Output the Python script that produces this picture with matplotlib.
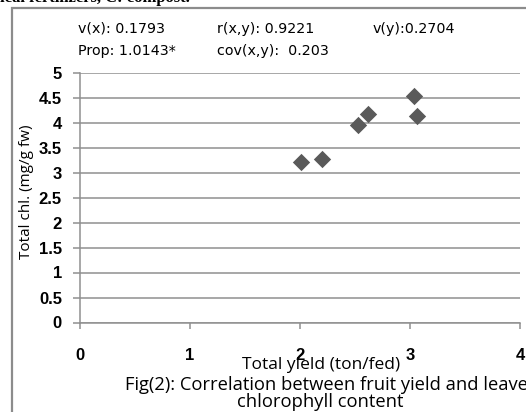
#!/usr/bin/python3
from matplotlib import pyplot as plt
from matplotlib.patches import Rectangle
import numpy as np

# Data
yield_x = [2.01, 2.20, 2.53, 2.62, 3.04, 3.06]
chl_y = [3.22, 3.27, 3.96, 4.17, 4.53, 4.14]
x_ticks = [0, 1, 2, 3, 4]
y_ticks = [0, 0.5, 1, 1.5, 2, 2.5, 3, 3.5, 4, 4.5, 5]
y_tick_labels = ['0', '0.5', '1', '1.5', '2', '2.5', '3', '3.5', '4', '4.5', '5']
stats = [('v(x): 0.1793', 'r(x,y): 0.9221', 'v(y):0.2704'),
         ('Prop: 1.0143*', 'cov(x,y):  0.203', '')]

W, H = 526, 412
figure = plt.figure(figsize=(W / 100, H / 100), dpi=100)
axes = figure.add_axes([80 / W, 1 - 322.5 / H, 440 / W, 250 / H])

# frame around the chart (cut off by the page)
figure.patches.append(Rectangle((12 / W, -0.1), 1.2, 1 - 8 / H + 0.1, transform=figure.transFigure,
                                fill=False, edgecolor='#8c8c8c', linewidth=1.6))

# heading from the page above, clipped
figure.text(0.5 / W, 1 + 2 / H, 'ical fertilizers, C: compost.', fontsize=12, fontweight='bold',
            family='Liberation Serif', ha='left', va='center')

axes.scatter(yield_x, chl_y, marker='D', s=78, color='#5a5a5a', zorder=3, linewidths=0)

axes.set_xlim(0, 4)
axes.set_ylim(0, 5)
axes.set_xticks(x_ticks)
axes.set_yticks(y_ticks)
axes.set_yticklabels(y_tick_labels)
axes.grid(axis='y', color='#8f8f8f', linewidth=1.1)
axes.set_axisbelow(True)
for s in ['top', 'right']:
    axes.spines[s].set_visible(False)
for s in ['left', 'bottom']:
    axes.spines[s].set_color('#8f8f8f')
    axes.spines[s].set_linewidth(1.1)
axes.tick_params(axis='x', direction='out', length=4.5, color='#8f8f8f', width=1.1, pad=14)
axes.tick_params(axis='y', direction='out', length=5, color='#8f8f8f', width=1.1, pad=8)
for lbl in axes.get_xticklabels() + axes.get_yticklabels():
    lbl.set_fontweight('bold')
    lbl.set_fontsize(12)
    lbl.set_family('Liberation Sans')

figure.text(27 / W, 1 - 192 / H, 'Total chl. (mg/g fw)', rotation=90, ha='center', va='center',
            fontsize=11, family='Open Sans')
figure.text(321 / W, 1 - 365 / H, 'Total yield (ton/fed)', ha='center', va='center',
            fontsize=12.5, family='Open Sans')
figure.text(125 / W, 1 - 385 / H, 'Fig(2): Correlation between fruit yield and leaves', ha='left',
            va='center', fontsize=13.2, family='Open Sans')
figure.text(320 / W, 1 - 402 / H, 'chlorophyll content', ha='center', va='center',
            fontsize=13.2, family='Open Sans')

cols = [78, 217, 373]
rows = [29, 51]
for r, row in zip(rows, stats):
    for c, t in zip(cols, row):
        if t:
            figure.text(c / W, 1 - r / H, t, ha='left', va='center', fontsize=10.3, family='DejaVu Sans')

figure.savefig('out.png', dpi=100)
